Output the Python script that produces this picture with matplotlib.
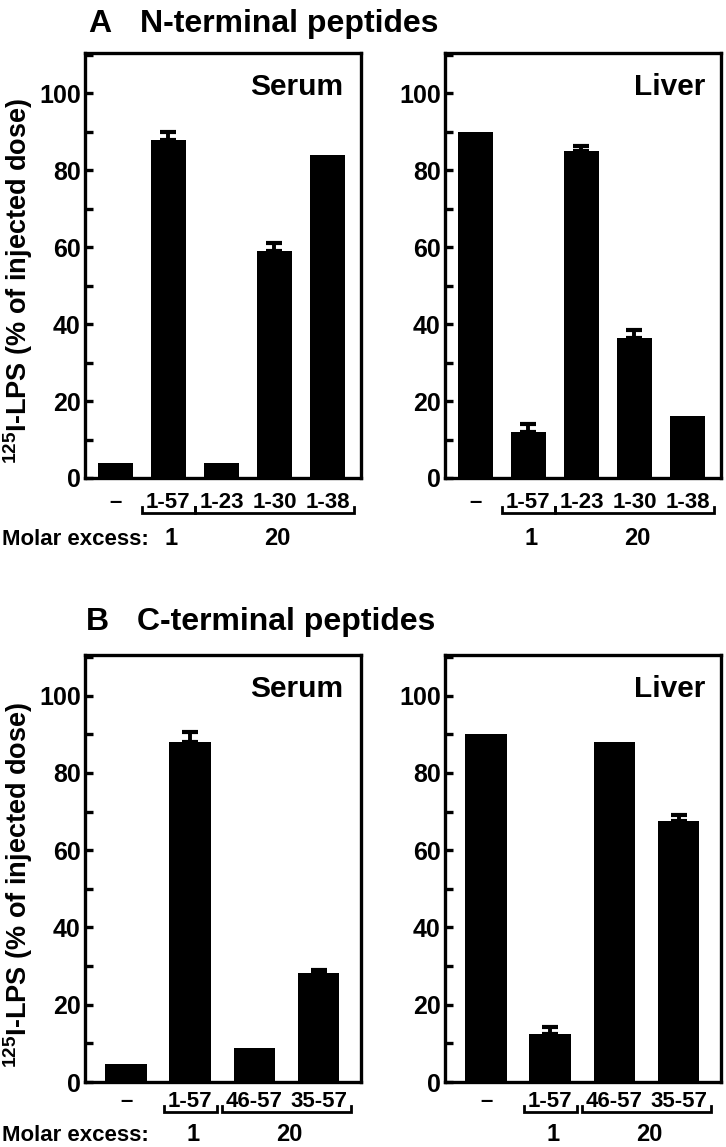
import matplotlib
matplotlib.use('Agg')
import matplotlib.pyplot as plt
from matplotlib.ticker import MultipleLocator
from matplotlib.lines import Line2D
import matplotlib.transforms as mtransforms

plt.rcParams['font.family'] = ['Liberation Sans', 'DejaVu Sans']
plt.rcParams['font.weight'] = 'bold'
plt.rcParams['mathtext.fontset'] = 'custom'
plt.rcParams['mathtext.rm'] = 'Liberation Sans:bold'
plt.rcParams['mathtext.bf'] = 'Liberation Sans:bold'

# ---------------- data ----------------
a_categories = ['\u2013', '1-57', '1-23', '1-30', '1-38']
a_serum = [4.0, 88.0, 3.8, 59.0, 84.0]
a_serum_err = [0, 2.0, 0, 2.0, 0]
a_liver = [90.0, 12.0, 85.0, 36.5, 16.0]
a_liver_err = [0, 2.0, 1.2, 2.0, 0]

b_categories = ['\u2013', '1-57', '46-57', '35-57']
b_serum = [4.7, 88.0, 8.7, 28.2]
b_serum_err = [0, 2.5, 0, 0.8]
b_liver = [90.0, 12.5, 88.0, 67.5]
b_liver_err = [0, 1.8, 0, 1.5]

molar_labels = ['1', '20']
yticks = [0, 20, 40, 60, 80, 100]
ylabel = r'$\mathbf{^{125}}$I-LPS (% of injected dose)'

# ---------------- layout ----------------
W, H = 726, 1147
fig = plt.figure(figsize=(W / 100, H / 100), dpi=100)


def fx(px):
    return px / W


def fy(px):
    return 1 - px / H


def make_axes(left, right, top, bottom):
    return fig.add_axes([fx(left), fy(bottom), fx(right) - fx(left), (bottom - top) / H])


panels = [
    (a_serum, a_serum_err, a_categories, 85, 361, 53, 478, 'Serum', True, 343),
    (a_liver, a_liver_err, a_categories, 445, 721, 53, 478, 'Liver', False, 705),
    (b_serum, b_serum_err, b_categories, 85, 361, 655, 1082, 'Serum', True, 343),
    (b_liver, b_liver_err, b_categories, 445, 721, 655, 1082, 'Liver', False, 705),
]

LW = 2.4
pending = []
for vals, errs, cats, left, right, top, bottom, name, molar_text, name_right in panels:
    ax = make_axes(left, right, top, bottom)
    n = len(vals)
    x = list(range(n))
    if n == 5:
        ax.set_xlim(-0.57, 4.63)
        width = 0.66
    else:
        ax.set_xlim(-0.64, 3.66)
        width = 0.65
    ax.bar(x, vals, width=width, color='black', edgecolor='none', zorder=2)
    ex = [xi for xi, e in zip(x, errs) if e > 0]
    ev = [v for v, e in zip(vals, errs) if e > 0]
    ee = [e for e in errs if e > 0]
    ax.errorbar(ex, ev, yerr=[[0] * len(ee), ee], fmt='none', ecolor='black',
                elinewidth=2.8, capsize=5.5, capthick=3.0, zorder=3)
    ax.set_ylim(0, 110.5)
    ax.set_yticks(yticks)
    ax.yaxis.set_minor_locator(MultipleLocator(10))
    ax.tick_params(axis='y', which='both', direction='in', length=5.5, width=LW,
                   labelsize=18, pad=3, right=False)
    ax.tick_params(axis='x', which='both', length=0, labelbottom=False)
    for lab in ax.get_yticklabels():
        lab.set_fontweight('bold')
    for sp in ax.spines.values():
        sp.set_linewidth(LW)
    ax.text(fx(name_right), fy(top + 42), name, transform=fig.transFigure,
            ha='right', va='baseline', fontsize=21.5, fontweight='bold')

    base = 508 if bottom < 600 else 1107
    br_y = base + 5
    mol_y = 545 if bottom < 600 else 1141
    trans = mtransforms.blended_transform_factory(ax.transData, fig.transFigure)
    texts = []
    for xi, c in zip(x, cats):
        t = ax.text(xi, fy(base), c, transform=trans, ha='center', va='baseline',
                    fontsize=16, fontweight='bold', clip_on=False)
        texts.append(t)
    groups = [[texts[1]], texts[2:]]
    pending.append((groups, br_y, mol_y))
    if molar_text:
        fig.text(fx(2), fy(mol_y), 'Molar excess:', ha='left', va='baseline',
                 fontsize=16, fontweight='bold')
    if left < 200:
        fig.text(fx(18), fy(bottom - 197), ylabel, rotation=90,
                 ha='center', va='center', fontsize=19.5, fontweight='bold')

fig.text(fx(88), fy(32), 'A', ha='left', va='baseline', fontsize=23, fontweight='bold')
fig.text(fx(140), fy(32), 'N-terminal peptides', ha='left', va='baseline', fontsize=23, fontweight='bold')
fig.text(fx(86), fy(630), 'B', ha='left', va='baseline', fontsize=23, fontweight='bold')
fig.text(fx(137), fy(630), 'C-terminal peptides', ha='left', va='baseline', fontsize=23, fontweight='bold')

fig.canvas.draw()
renderer = fig.canvas.get_renderer()
for groups, br_y, mol_y in pending:
    for g, mlab in zip(groups, molar_labels):
        bbs = [t.get_window_extent(renderer) for t in g]
        x0 = min(b.x0 for b in bbs) - 4
        x1 = max(b.x1 for b in bbs) + 4
        yb = fy(br_y)
        yt = fy(br_y - 6)
        fig.add_artist(Line2D([fx(x0), fx(x0), fx(x1), fx(x1)], [yt, yb, yb, yt],
                              transform=fig.transFigure, color='black', lw=2.0,
                              solid_joinstyle='miter'))
        fig.text(fx((x0 + x1) / 2 + 3), fy(mol_y), mlab, ha='center', va='baseline',
                 fontsize=17, fontweight='bold')

fig.savefig('out.png', dpi=100)
